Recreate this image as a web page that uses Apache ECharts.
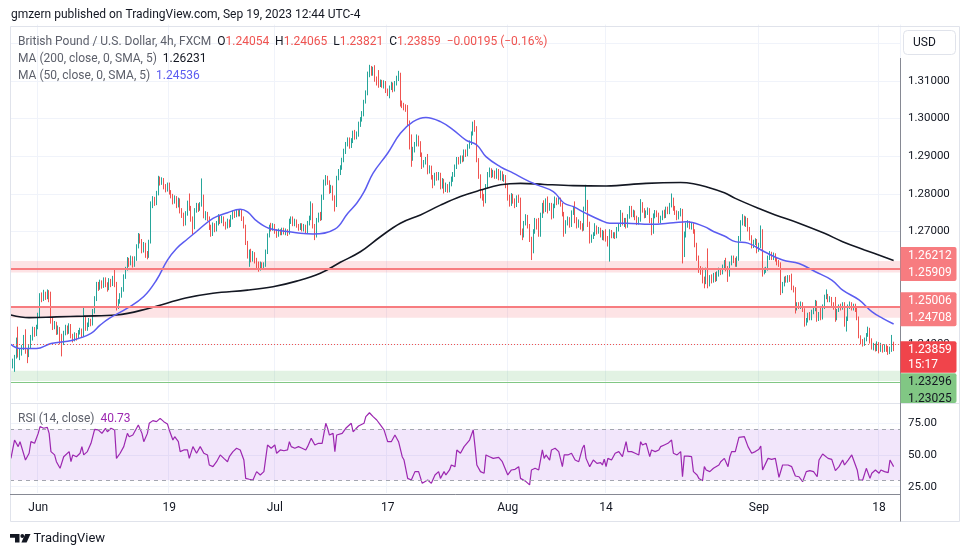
<!DOCTYPE html>
<html><head><meta charset="utf-8">
<script src="https://cdn.jsdelivr.net/npm/echarts@6/dist/echarts.min.js"></script>
<style>html,body{margin:0;padding:0;background:#fff}#c{width:970px;height:557px}</style>
</head><body><div id="c"></div><script>
// ---- data ----
// candles: [open, close, low, high], one per 4h bar
const candles = [
[1.2352,1.2344,1.2338,1.2358],[1.2344,1.2356,1.2336,1.2362],[1.2356,1.2368,1.2327,1.2372],[1.2368,1.2410,1.2362,1.2418],[1.2410,1.2372,1.2365,1.2447],[1.2372,1.2380,1.2358,1.2388],[1.2380,1.2392,1.2370,1.2398],[1.2392,1.2418,1.2385,1.2425],[1.2418,1.2382,1.2375,1.2440],[1.2382,1.2374,1.2350,1.2390],
[1.2374,1.2392,1.2366,1.2398],[1.2392,1.2418,1.2388,1.2425],[1.2418,1.2440,1.2410,1.2447],[1.2440,1.2428,1.2420,1.2446],[1.2428,1.2446,1.2422,1.2452],[1.2446,1.2478,1.2440,1.2484],[1.2478,1.2528,1.2472,1.2536],[1.2528,1.2520,1.2512,1.2538],[1.2520,1.2534,1.2515,1.2545],[1.2534,1.2524,1.2518,1.2540],
[1.2524,1.2538,1.2520,1.2546],[1.2538,1.2518,1.2512,1.2544],[1.2518,1.2462,1.2455,1.2540],[1.2462,1.2448,1.2438,1.2470],[1.2448,1.2456,1.2440,1.2462],[1.2456,1.2432,1.2425,1.2460],[1.2432,1.2442,1.2426,1.2450],[1.2442,1.2420,1.2400,1.2446],[1.2420,1.2404,1.2368,1.2428],[1.2404,1.2430,1.2398,1.2436],
[1.2430,1.2446,1.2424,1.2452],[1.2446,1.2432,1.2426,1.2450],[1.2432,1.2450,1.2428,1.2456],[1.2450,1.2422,1.2416,1.2454],[1.2422,1.2412,1.2405,1.2428],[1.2412,1.2426,1.2408,1.2432],[1.2426,1.2418,1.2410,1.2430],[1.2418,1.2432,1.2414,1.2438],[1.2432,1.2438,1.2426,1.2444],[1.2438,1.2425,1.2418,1.2442],
[1.2425,1.2470,1.2420,1.2500],[1.2470,1.2442,1.2436,1.2474],[1.2442,1.2452,1.2436,1.2458],[1.2452,1.2462,1.2446,1.2470],[1.2462,1.2455,1.2448,1.2468],[1.2455,1.2488,1.2450,1.2494],[1.2488,1.2520,1.2482,1.2528],[1.2520,1.2560,1.2515,1.2566],[1.2560,1.2550,1.2542,1.2566],[1.2550,1.2565,1.2545,1.2572],
[1.2565,1.2555,1.2548,1.2570],[1.2555,1.2572,1.2550,1.2578],[1.2572,1.2560,1.2552,1.2578],[1.2560,1.2548,1.2540,1.2565],[1.2548,1.2570,1.2544,1.2576],[1.2570,1.2560,1.2552,1.2574],[1.2560,1.2576,1.2555,1.2582],[1.2576,1.2560,1.2552,1.2600],[1.2560,1.2500,1.2490,1.2566],[1.2500,1.2514,1.2494,1.2520],
[1.2514,1.2530,1.2508,1.2536],[1.2530,1.2546,1.2524,1.2552],[1.2546,1.2580,1.2540,1.2586],[1.2580,1.2600,1.2574,1.2606],[1.2600,1.2624,1.2596,1.2632],[1.2624,1.2614,1.2606,1.2630],[1.2614,1.2630,1.2610,1.2636],[1.2630,1.2612,1.2604,1.2634],[1.2612,1.2628,1.2606,1.2634],[1.2628,1.2660,1.2622,1.2666],
[1.2660,1.2690,1.2655,1.2696],[1.2690,1.2675,1.2668,1.2694],[1.2675,1.2650,1.2642,1.2680],[1.2650,1.2666,1.2644,1.2672],[1.2666,1.2640,1.2630,1.2670],[1.2640,1.2635,1.2626,1.2648],[1.2635,1.2672,1.2630,1.2678],[1.2672,1.2770,1.2668,1.2780],[1.2770,1.2786,1.2762,1.2794],[1.2786,1.2776,1.2768,1.2792],
[1.2776,1.2802,1.2770,1.2808],[1.2802,1.2840,1.2796,1.2848],[1.2840,1.2830,1.2822,1.2846],[1.2830,1.2838,1.2824,1.2844],[1.2838,1.2820,1.2812,1.2842],[1.2820,1.2812,1.2804,1.2826],[1.2812,1.2825,1.2806,1.2830],[1.2825,1.2805,1.2798,1.2830],[1.2805,1.2795,1.2788,1.2810],[1.2795,1.2780,1.2772,1.2800],
[1.2780,1.2790,1.2774,1.2796],[1.2790,1.2770,1.2762,1.2794],[1.2770,1.2784,1.2764,1.2790],[1.2784,1.2756,1.2748,1.2788],[1.2756,1.2745,1.2736,1.2762],[1.2745,1.2722,1.2714,1.2750],[1.2722,1.2748,1.2716,1.2754],[1.2748,1.2775,1.2742,1.2782],[1.2775,1.2762,1.2755,1.2801],[1.2762,1.2735,1.2726,1.2768],
[1.2735,1.2712,1.2691,1.2740],[1.2712,1.2757,1.2706,1.2762],[1.2757,1.2770,1.2750,1.2776],[1.2770,1.2760,1.2752,1.2775],[1.2760,1.2772,1.2755,1.2778],[1.2772,1.2790,1.2766,1.2841],[1.2790,1.2740,1.2735,1.2798],[1.2740,1.2748,1.2730,1.2754],[1.2748,1.2734,1.2728,1.2752],[1.2734,1.2712,1.2704,1.2740],
[1.2712,1.2692,1.2686,1.2718],[1.2692,1.2718,1.2688,1.2724],[1.2718,1.2705,1.2698,1.2722],[1.2705,1.2722,1.2700,1.2728],[1.2722,1.2740,1.2716,1.2746],[1.2740,1.2728,1.2720,1.2744],[1.2728,1.2736,1.2722,1.2742],[1.2736,1.2720,1.2714,1.2740],[1.2720,1.2712,1.2705,1.2726],[1.2712,1.2728,1.2708,1.2734],
[1.2728,1.2716,1.2710,1.2732],[1.2716,1.2738,1.2712,1.2744],[1.2738,1.2750,1.2732,1.2756],[1.2750,1.2742,1.2736,1.2754],[1.2742,1.2752,1.2738,1.2757],[1.2752,1.2746,1.2740,1.2757],[1.2746,1.2754,1.2740,1.2758],[1.2754,1.2735,1.2728,1.2758],[1.2735,1.2715,1.2708,1.2740],[1.2715,1.2670,1.2664,1.2718],
[1.2670,1.2636,1.2628,1.2675],[1.2636,1.2648,1.2606,1.2652],[1.2648,1.2625,1.2618,1.2654],[1.2625,1.2640,1.2620,1.2648],[1.2640,1.2622,1.2615,1.2645],[1.2622,1.2610,1.2600,1.2630],[1.2610,1.2602,1.2593,1.2620],[1.2602,1.2614,1.2596,1.2620],[1.2614,1.2604,1.2598,1.2618],[1.2604,1.2612,1.2600,1.2618],
[1.2612,1.2646,1.2606,1.2652],[1.2646,1.2690,1.2640,1.2695],[1.2690,1.2712,1.2684,1.2718],[1.2712,1.2708,1.2700,1.2723],[1.2708,1.2716,1.2702,1.2722],[1.2716,1.2700,1.2694,1.2720],[1.2700,1.2690,1.2683,1.2706],[1.2690,1.2702,1.2686,1.2708],[1.2702,1.2696,1.2690,1.2706],[1.2696,1.2705,1.2690,1.2710],
[1.2705,1.2698,1.2692,1.2710],[1.2698,1.2702,1.2690,1.2708],[1.2702,1.2696,1.2688,1.2706],[1.2696,1.2725,1.2692,1.2734],[1.2725,1.2736,1.2720,1.2740],[1.2736,1.2720,1.2714,1.2740],[1.2720,1.2728,1.2714,1.2734],[1.2728,1.2716,1.2710,1.2732],[1.2716,1.2710,1.2702,1.2720],[1.2710,1.2718,1.2704,1.2722],
[1.2718,1.2706,1.2700,1.2722],[1.2706,1.2714,1.2700,1.2720],[1.2714,1.2700,1.2694,1.2718],[1.2700,1.2722,1.2694,1.2728],[1.2722,1.2736,1.2716,1.2742],[1.2736,1.2770,1.2730,1.2780],[1.2770,1.2715,1.2708,1.2775],[1.2715,1.2690,1.2677,1.2720],[1.2690,1.2730,1.2684,1.2736],[1.2730,1.2745,1.2724,1.2750],
[1.2745,1.2736,1.2728,1.2752],[1.2736,1.2790,1.2730,1.2798],[1.2790,1.2830,1.2784,1.2838],[1.2830,1.2844,1.2822,1.2850],[1.2844,1.2830,1.2824,1.2848],[1.2830,1.2808,1.2800,1.2836],[1.2808,1.2818,1.2802,1.2824],[1.2818,1.2790,1.2782,1.2822],[1.2790,1.2770,1.2753,1.2796],[1.2770,1.2842,1.2765,1.2848],
[1.2842,1.2858,1.2836,1.2866],[1.2858,1.2870,1.2850,1.2876],[1.2870,1.2890,1.2864,1.2896],[1.2890,1.2914,1.2884,1.2920],[1.2914,1.2932,1.2906,1.2938],[1.2932,1.2944,1.2926,1.2950],[1.2944,1.2928,1.2920,1.2950],[1.2928,1.2940,1.2922,1.2948],[1.2940,1.2962,1.2935,1.2968],[1.2962,1.2950,1.2944,1.2970],
[1.2950,1.2958,1.2945,1.2966],[1.2958,1.2985,1.2952,1.2992],[1.2985,1.2998,1.2978,1.3004],[1.2998,1.3012,1.2992,1.3020],[1.3012,1.3045,1.3006,1.3050],[1.3045,1.3068,1.3040,1.3075],[1.3068,1.3118,1.3062,1.3125],[1.3118,1.3132,1.3110,1.3143],[1.3132,1.3120,1.3114,1.3140],[1.3120,1.3128,1.3114,1.3138],
[1.3128,1.3104,1.3098,1.3142],[1.3104,1.3094,1.3088,1.3112],[1.3094,1.3090,1.3082,1.3129],[1.3090,1.3098,1.3084,1.3104],[1.3098,1.3088,1.3082,1.3103],[1.3088,1.3096,1.3080,1.3102],[1.3096,1.3075,1.3068,1.3100],[1.3075,1.3068,1.3060,1.3080],[1.3068,1.3082,1.3054,1.3088],[1.3082,1.3090,1.3076,1.3098],
[1.3090,1.3076,1.3070,1.3096],[1.3076,1.3094,1.3072,1.3100],[1.3094,1.3108,1.3088,1.3114],[1.3108,1.3118,1.3100,1.3127],[1.3118,1.3040,1.3032,1.3122],[1.3040,1.3035,1.3028,1.3048],[1.3035,1.3030,1.3022,1.3042],[1.3030,1.3026,1.3018,1.3038],[1.3026,1.2990,1.2980,1.3036],[1.2990,1.2925,1.2918,1.2995],
[1.2925,1.2895,1.2872,1.2958],[1.2895,1.2918,1.2888,1.2925],[1.2918,1.2930,1.2910,1.2938],[1.2930,1.2950,1.2926,1.2958],[1.2950,1.2935,1.2926,1.2955],[1.2935,1.2905,1.2898,1.2940],[1.2905,1.2875,1.2866,1.2910],[1.2875,1.2885,1.2870,1.2890],[1.2885,1.2892,1.2878,1.2898],[1.2892,1.2860,1.2852,1.2906],
[1.2860,1.2870,1.2854,1.2876],[1.2870,1.2845,1.2838,1.2875],[1.2845,1.2828,1.2815,1.2850],[1.2828,1.2850,1.2822,1.2856],[1.2850,1.2842,1.2835,1.2858],[1.2842,1.2852,1.2836,1.2858],[1.2852,1.2820,1.2812,1.2856],[1.2820,1.2836,1.2814,1.2842],[1.2836,1.2812,1.2801,1.2840],[1.2812,1.2820,1.2805,1.2830],
[1.2820,1.2808,1.2803,1.2826],[1.2808,1.2826,1.2804,1.2832],[1.2826,1.2838,1.2820,1.2846],[1.2838,1.2850,1.2832,1.2858],[1.2850,1.2872,1.2845,1.2878],[1.2872,1.2892,1.2866,1.2898],[1.2892,1.2884,1.2878,1.2898],[1.2884,1.2896,1.2880,1.2902],[1.2896,1.2890,1.2884,1.2902],[1.2890,1.2912,1.2886,1.2918],
[1.2912,1.2905,1.2898,1.2918],[1.2905,1.2926,1.2900,1.2932],[1.2926,1.2935,1.2920,1.2942],[1.2935,1.2960,1.2930,1.2966],[1.2960,1.2985,1.2955,1.2992],[1.2985,1.2972,1.2965,1.2996],[1.2972,1.2890,1.2884,1.2980],[1.2890,1.2848,1.2840,1.2895],[1.2848,1.2805,1.2788,1.2852],[1.2805,1.2792,1.2782,1.2812],
[1.2792,1.2780,1.2766,1.2800],[1.2780,1.2820,1.2775,1.2826],[1.2820,1.2850,1.2814,1.2858],[1.2850,1.2862,1.2844,1.2870],[1.2862,1.2850,1.2842,1.2868],[1.2850,1.2858,1.2844,1.2864],[1.2858,1.2846,1.2840,1.2862],[1.2846,1.2860,1.2840,1.2868],[1.2860,1.2842,1.2836,1.2866],[1.2842,1.2855,1.2836,1.2862],
[1.2855,1.2840,1.2834,1.2860],[1.2840,1.2846,1.2832,1.2852],[1.2846,1.2822,1.2815,1.2850],[1.2822,1.2790,1.2782,1.2826],[1.2790,1.2772,1.2766,1.2798],[1.2772,1.2796,1.2768,1.2802],[1.2796,1.2782,1.2774,1.2800],[1.2782,1.2770,1.2762,1.2788],[1.2770,1.2790,1.2765,1.2796],[1.2790,1.2784,1.2776,1.2798],
[1.2784,1.2700,1.2690,1.2790],[1.2700,1.2688,1.2677,1.2708],[1.2688,1.2722,1.2684,1.2728],[1.2722,1.2740,1.2716,1.2746],[1.2740,1.2715,1.2708,1.2744],[1.2715,1.2680,1.2672,1.2720],[1.2680,1.2648,1.2624,1.2686],[1.2648,1.2700,1.2642,1.2706],[1.2700,1.2728,1.2694,1.2736],[1.2728,1.2712,1.2705,1.2734],
[1.2712,1.2690,1.2686,1.2736],[1.2690,1.2742,1.2686,1.2750],[1.2742,1.2765,1.2736,1.2776],[1.2765,1.2758,1.2748,1.2783],[1.2758,1.2780,1.2752,1.2788],[1.2780,1.2760,1.2748,1.2793],[1.2760,1.2770,1.2755,1.2776],[1.2770,1.2740,1.2732,1.2776],[1.2740,1.2768,1.2735,1.2774],[1.2768,1.2785,1.2762,1.2793],
[1.2785,1.2778,1.2770,1.2790],[1.2778,1.2786,1.2772,1.2792],[1.2786,1.2772,1.2766,1.2790],[1.2772,1.2748,1.2740,1.2776],[1.2748,1.2700,1.2686,1.2752],[1.2700,1.2722,1.2694,1.2730],[1.2722,1.2730,1.2716,1.2740],[1.2730,1.2718,1.2710,1.2738],[1.2718,1.2750,1.2712,1.2756],[1.2750,1.2762,1.2744,1.2768],
[1.2762,1.2730,1.2722,1.2780],[1.2730,1.2715,1.2708,1.2738],[1.2715,1.2725,1.2710,1.2732],[1.2725,1.2712,1.2705,1.2728],[1.2712,1.2708,1.2700,1.2722],[1.2708,1.2760,1.2702,1.2766],[1.2760,1.2770,1.2754,1.2824],[1.2770,1.2720,1.2712,1.2784],[1.2720,1.2675,1.2668,1.2726],[1.2675,1.2686,1.2670,1.2692],
[1.2686,1.2692,1.2680,1.2698],[1.2692,1.2712,1.2688,1.2722],[1.2712,1.2700,1.2692,1.2716],[1.2700,1.2706,1.2694,1.2712],[1.2706,1.2690,1.2684,1.2710],[1.2690,1.2698,1.2677,1.2704],[1.2698,1.2688,1.2676,1.2702],[1.2688,1.2680,1.2673,1.2706],[1.2680,1.2670,1.2660,1.2688],[1.2670,1.2700,1.2620,1.2706],
[1.2700,1.2688,1.2682,1.2704],[1.2688,1.2694,1.2682,1.2698],[1.2694,1.2686,1.2680,1.2698],[1.2686,1.2705,1.2682,1.2712],[1.2705,1.2716,1.2700,1.2722],[1.2716,1.2745,1.2712,1.2757],[1.2745,1.2722,1.2716,1.2750],[1.2722,1.2730,1.2712,1.2736],[1.2730,1.2715,1.2708,1.2736],[1.2715,1.2740,1.2710,1.2746],
[1.2740,1.2762,1.2734,1.2768],[1.2762,1.2745,1.2738,1.2768],[1.2745,1.2752,1.2738,1.2758],[1.2752,1.2738,1.2730,1.2756],[1.2738,1.2725,1.2717,1.2742],[1.2725,1.2732,1.2718,1.2738],[1.2732,1.2772,1.2726,1.2786],[1.2772,1.2758,1.2750,1.2778],[1.2758,1.2742,1.2735,1.2762],[1.2742,1.2750,1.2736,1.2756],
[1.2750,1.2758,1.2744,1.2764],[1.2758,1.2730,1.2722,1.2762],[1.2730,1.2698,1.2690,1.2736],[1.2698,1.2740,1.2694,1.2748],[1.2740,1.2752,1.2735,1.2757],[1.2752,1.2744,1.2738,1.2756],[1.2744,1.2728,1.2722,1.2750],[1.2728,1.2736,1.2722,1.2742],[1.2736,1.2750,1.2730,1.2756],[1.2750,1.2742,1.2735,1.2758],
[1.2742,1.2760,1.2736,1.2766],[1.2760,1.2752,1.2746,1.2766],[1.2752,1.2770,1.2746,1.2776],[1.2770,1.2785,1.2764,1.2801],[1.2785,1.2762,1.2755,1.2790],[1.2762,1.2750,1.2744,1.2768],[1.2750,1.2738,1.2730,1.2756],[1.2738,1.2748,1.2732,1.2754],[1.2748,1.2756,1.2740,1.2762],[1.2756,1.2640,1.2615,1.2760],
[1.2640,1.2690,1.2632,1.2700],[1.2690,1.2718,1.2684,1.2724],[1.2718,1.2725,1.2710,1.2730],[1.2725,1.2712,1.2706,1.2728],[1.2712,1.2718,1.2705,1.2724],[1.2718,1.2700,1.2694,1.2722],[1.2700,1.2665,1.2658,1.2706],[1.2665,1.2630,1.2622,1.2670],[1.2630,1.2600,1.2590,1.2636],[1.2600,1.2598,1.2585,1.2608],
[1.2598,1.2570,1.2562,1.2604],[1.2570,1.2565,1.2549,1.2580],[1.2565,1.2598,1.2560,1.2604],[1.2598,1.2560,1.2549,1.2655],[1.2560,1.2578,1.2554,1.2584],[1.2578,1.2570,1.2562,1.2586],[1.2570,1.2584,1.2564,1.2590],[1.2584,1.2574,1.2566,1.2592],[1.2574,1.2588,1.2568,1.2594],[1.2588,1.2596,1.2580,1.2604],
[1.2596,1.2590,1.2584,1.2602],[1.2590,1.2604,1.2586,1.2612],[1.2604,1.2618,1.2598,1.2624],[1.2618,1.2600,1.2594,1.2630],[1.2600,1.2585,1.2566,1.2608],[1.2585,1.2615,1.2580,1.2620],[1.2615,1.2628,1.2610,1.2636],[1.2628,1.2622,1.2616,1.2636],[1.2622,1.2612,1.2606,1.2630],[1.2612,1.2628,1.2606,1.2634],
[1.2628,1.2680,1.2622,1.2688],[1.2680,1.2722,1.2674,1.2730],[1.2722,1.2738,1.2716,1.2746],[1.2738,1.2722,1.2714,1.2742],[1.2722,1.2732,1.2712,1.2740],[1.2732,1.2706,1.2700,1.2736],[1.2706,1.2682,1.2676,1.2712],[1.2682,1.2660,1.2655,1.2690],[1.2660,1.2672,1.2656,1.2678],[1.2672,1.2676,1.2664,1.2682],
[1.2676,1.2652,1.2642,1.2680],[1.2652,1.2662,1.2646,1.2670],[1.2662,1.2700,1.2656,1.2716],[1.2700,1.2590,1.2580,1.2706],[1.2590,1.2600,1.2586,1.2604],[1.2600,1.2602,1.2590,1.2606],[1.2602,1.2630,1.2596,1.2636],[1.2630,1.2642,1.2624,1.2648],[1.2642,1.2630,1.2624,1.2646],[1.2630,1.2638,1.2624,1.2644],
[1.2638,1.2626,1.2620,1.2642],[1.2626,1.2616,1.2610,1.2632],[1.2616,1.2612,1.2606,1.2624],[1.2612,1.2542,1.2531,1.2618],[1.2542,1.2560,1.2536,1.2566],[1.2560,1.2575,1.2554,1.2580],[1.2575,1.2570,1.2564,1.2582],[1.2570,1.2578,1.2564,1.2584],[1.2578,1.2572,1.2566,1.2584],[1.2572,1.2550,1.2544,1.2588],
[1.2550,1.2544,1.2538,1.2556],[1.2544,1.2495,1.2482,1.2552],[1.2495,1.2506,1.2490,1.2512],[1.2506,1.2500,1.2494,1.2512],[1.2500,1.2508,1.2494,1.2514],[1.2508,1.2492,1.2486,1.2512],[1.2492,1.2456,1.2447,1.2496],[1.2456,1.2464,1.2450,1.2470],[1.2464,1.2478,1.2458,1.2484],[1.2478,1.2470,1.2464,1.2486],
[1.2470,1.2486,1.2464,1.2492],[1.2486,1.2494,1.2480,1.2500],[1.2494,1.2512,1.2488,1.2518],[1.2512,1.2468,1.2460,1.2516],[1.2468,1.2480,1.2462,1.2486],[1.2480,1.2470,1.2464,1.2502],[1.2470,1.2500,1.2466,1.2506],[1.2500,1.2526,1.2494,1.2532],[1.2526,1.2530,1.2520,1.2546],[1.2530,1.2518,1.2512,1.2534],
[1.2518,1.2522,1.2512,1.2528],[1.2522,1.2508,1.2502,1.2526],[1.2508,1.2498,1.2492,1.2512],[1.2498,1.2470,1.2460,1.2526],[1.2470,1.2490,1.2464,1.2494],[1.2490,1.2502,1.2486,1.2506],[1.2502,1.2496,1.2490,1.2508],[1.2496,1.2508,1.2492,1.2512],[1.2508,1.2455,1.2447,1.2512],[1.2455,1.2468,1.2434,1.2474],
[1.2468,1.2500,1.2462,1.2506],[1.2500,1.2508,1.2494,1.2514],[1.2508,1.2496,1.2490,1.2512],[1.2496,1.2502,1.2490,1.2508],[1.2502,1.2492,1.2486,1.2508],[1.2492,1.2470,1.2464,1.2500],[1.2470,1.2418,1.2416,1.2474],[1.2418,1.2408,1.2400,1.2424],[1.2408,1.2400,1.2394,1.2414],[1.2400,1.2412,1.2396,1.2418],
[1.2412,1.2426,1.2408,1.2430],[1.2426,1.2440,1.2420,1.2447],[1.2440,1.2410,1.2402,1.2444],[1.2410,1.2392,1.2386,1.2416],[1.2392,1.2398,1.2384,1.2404],[1.2398,1.2388,1.2381,1.2402],[1.2388,1.2402,1.2382,1.2408],[1.2402,1.2385,1.2376,1.2406],[1.2385,1.2398,1.2380,1.2404],[1.2398,1.2386,1.2378,1.2400],
[1.2386,1.2394,1.2380,1.2400],[1.2394,1.2388,1.2380,1.2398],[1.2388,1.2380,1.2372,1.2396],[1.2380,1.2386,1.2374,1.2394],[1.2386,1.2405,1.2380,1.2425],[1.2405,1.2386,1.2382,1.2407]
];
// moving averages: [bar index, value]
const ma200 = [[0,1.2478],[10,1.2471],[25,1.2473],[40,1.2475],[58,1.2478],[76,1.2496],[96,1.2523],[111,1.2536],[130,1.2544],[144,1.2553],[157,1.2568],[170,1.2589],[181,1.2618],[192,1.2646],[203,1.2686],[214,1.2722],[225,1.2744],[236,1.2770],[247,1.2793],[258,1.2810],[269,1.2824],[280,1.2828],[293,1.2825],[309,1.2822],[327,1.2821],[349,1.2828],[368,1.2830],[375,1.2827],[382,1.2819],[392,1.2803],[398,1.2788],[411,1.2761],[420,1.2744],[433,1.2722],[447,1.2695],[457,1.2673],[469,1.2651],[485,1.2623]];
const ma50 = [[0,1.2400],[5,1.2389],[14,1.2389],[22,1.2402],[34,1.2411],[44,1.2429],[49,1.2451],[54,1.2469],[64,1.2496],[73,1.2527],[80,1.2571],[86,1.2624],[91,1.2655],[97,1.2680],[102,1.2700],[111,1.2735],[119,1.2750],[126,1.2759],[130,1.2752],[135,1.2728],[142,1.2708],[152,1.2700],[159,1.2695],[166,1.2693],[178,1.2706],[185,1.2748],[190,1.2775],[194,1.2805],[199,1.2855],[207,1.2908],[214,1.2961],[221,1.2992],[228,1.3003],[236,1.2992],[243,1.2970],[250,1.2943],[256,1.2930],[261,1.2899],[269,1.2872],[276,1.2855],[283,1.2837],[289,1.2824],[298,1.2806],[304,1.2775],[309,1.2766],[316,1.2748],[324,1.2730],[329,1.2722],[338,1.2722],[351,1.2719],[364,1.2723],[371,1.2726],[381,1.2713],[386,1.2700],[392,1.2688],[398,1.2673],[405,1.2669],[414,1.2646],[424,1.2624],[433,1.2615],[442,1.2593],[451,1.2571],[457,1.2544],[466,1.2518],[473,1.2487],[479,1.2469],[485,1.2454]];
// RSI(14): [bar index, value]
const rsi = [[0,47.2],[2,61.6],[4,56.4],[5,60.3],[6,61.6],[8,45.9],[10,51.2],[11,60.3],[13,59.0],[15,66.8],[16,72.1],[18,70.8],[20,71.5],[21,66.8],[22,52.5],[24,49.9],[25,44.6],[27,39.4],[29,48.5],[30,49.9],[32,52.5],[33,44.6],[34,49.9],[36,48.5],[38,51.2],[39,56.4],[40,49.9],[42,52.5],[44,59.0],[46,70.0],[48,69.5],[50,66.8],[52,70.8],[53,68.1],[55,70.8],[57,69.5],[58,47.2],[60,51.2],[62,56.4],[64,66.8],[65,64.2],[67,65.5],[68,64.2],[70,73.4],[72,66.8],[73,60.3],[75,66.8],[76,74.7],[78,76.8],[80,76.0],[82,78.6],[84,76.0],[86,74.2],[87,69.5],[89,61.6],[90,64.2],[92,60.3],[93,52.5],[95,53.8],[97,53.8],[98,47.2],[100,56.4],[102,51.2],[104,56.4],[106,51.2],[108,49.9],[109,42.0],[111,40.7],[113,44.6],[115,49.9],[117,47.2],[119,44.6],[120,48.5],[122,52.5],[124,55.1],[126,53.8],[128,45.9],[129,31.5],[131,30.8],[133,30.2],[135,36.8],[137,34.2],[139,36.8],[140,38.1],[141,57.7],[143,55.1],[145,57.7],[146,51.2],[148,53.8],[150,53.2],[152,53.8],[153,60.3],[154,56.4],[156,55.1],[158,56.4],[160,55.1],[162,53.8],[163,56.4],[165,62.9],[167,57.7],[169,59.0],[171,59.0],[173,74.7],[174,70.8],[175,65.5],[177,66.8],[178,52.5],[179,65.5],[182,66.8],[184,70.8],[187,74.7],[188,68.1],[191,72.6],[194,74.7],[195,79.9],[197,83.0],[199,79.9],[201,77.3],[203,73.4],[205,69.5],[206,68.1],[207,60.3],[209,60.3],[211,65.5],[213,60.3],[215,48.5],[216,45.9],[218,31.5],[220,30.2],[222,36.8],[224,36.8],[226,27.6],[227,28.9],[229,30.2],[231,27.6],[233,34.2],[235,36.8],[236,31.5],[238,36.8],[239,34.2],[241,38.1],[242,42.0],[244,40.7],[245,53.8],[247,51.2],[249,56.4],[250,56.4],[252,61.6],[254,69.5],[255,56.4],[256,42.0],[258,36.8],[260,35.5],[261,49.9],[263,48.5],[265,47.2],[268,48.0],[270,44.6],[271,43.3],[273,34.2],[275,38.1],[277,38.6],[279,40.7],[280,31.5],[281,30.8],[283,29.0],[285,26.4],[286,38.1],[288,39.4],[290,38.1],[292,53.8],[293,47.2],[294,49.9],[296,45.9],[297,53.8],[299,55.1],[301,52.5],[303,40.7],[304,49.9],[306,49.9],[308,51.2],[310,45.9],[312,44.6],[313,43.3],[314,55.1],[315,57.7],[316,47.2],[318,40.7],[319,42.0],[320,45.9],[322,43.3],[324,43.8],[325,42.0],[326,46.5],[327,40.7],[328,47.2],[330,45.9],[332,51.2],[334,52.5],[335,53.8],[336,48.5],[338,60.3],[339,52.5],[341,52.5],[343,51.2],[345,49.9],[346,60.3],[347,57.7],[349,59.0],[351,48.5],[352,53.8],[354,52.5],[356,53.8],[357,56.4],[359,57.7],[361,59.0],[363,61.6],[364,51.2],[366,49.9],[368,52.5],[369,32.8],[370,49.0],[372,49.0],[374,48.5],[375,36.8],[377,34.2],[378,31.5],[380,29.7],[381,40.7],[382,38.1],[384,36.8],[386,39.4],[387,38.1],[389,42.0],[390,44.6],[392,47.2],[394,40.7],[395,48.5],[396,52.5],[398,52.5],[400,63.7],[401,64.2],[403,64.2],[405,56.4],[407,51.2],[409,52.5],[411,54.3],[412,56.9],[413,38.1],[414,39.4],[416,47.2],[418,46.4],[420,47.2],[421,45.9],[422,32.3],[424,42.0],[425,40.7],[427,42.0],[429,40.7],[431,33.4],[433,32.8],[435,28.9],[437,36.8],[439,37.6],[441,36.8],[443,32.8],[444,45.9],[446,50.6],[447,51.2],[449,47.2],[451,46.4],[453,37.6],[455,40.7],[457,45.9],[458,42.0],[460,45.9],[462,49.9],[463,49.9],[465,38.1],[466,30.2],[468,30.2],[470,39.4],[472,31.5],[473,35.5],[475,38.1],[477,35.5],[478,38.1],[480,36.8],[482,36.0],[483,45.9],[485,40.7]];
// time axis ticks: bar index and label
const tickBars = [15, 87, 145, 207, 273, 327, 411, 477];
const tickLabels = ['Jun', '19', 'Jul', '17', 'Aug', '14', 'Sep', '18'];
// drawn zones [top, bottom]
const resistanceZones = [[1.26212, 1.25909], [1.25006, 1.24708]];
const supportZone = [1.23296, 1.23025];
const lastPrice = 1.23859;
const countdown = '15:17';
const legendOHLC = ['1.24054', '1.24065', '1.23821', '1.23859'];
const legendChange = '\u22120.00195 (\u22120.16%)';
const legendMA200 = '1.26231';
const legendMA50 = '1.24536';
const legendRSI = '40.73';
const slotCount = 489;

// ---- chart ----
const FONT = 'Roboto, "Open Sans", "DejaVu Sans", sans-serif';
const GRID = '#f0f3fa';
const UP = '#26a69a', DOWN = '#ef5350';
const cats = Array.from({length: slotCount}, (_, i) => String(i));
const tickAt = new Map(tickBars.map((b, k) => [b, tickLabels[k]]));
const isTick = (i) => tickAt.has(i);
const T = 'rgba(0,0,0,0)';
const rsiGridColors = [T, GRID, T, T, T, T, GRID, T, T, T, T, GRID, T, T, T];

const chart = echarts.init(document.getElementById('c'), null, {renderer: 'canvas'});

const zoneAreas = resistanceZones.map(z => [
  {yAxis: z[0], itemStyle: {color: 'rgba(242,54,69,0.14)'}}, {yAxis: z[1]}
]).concat([[{yAxis: supportZone[0], itemStyle: {color: 'rgba(76,175,80,0.16)'}}, {yAxis: supportZone[1]}]]);
const zoneLines = [];
resistanceZones.forEach(z => {
  zoneLines.push({yAxis: z[0], lineStyle: {color: '#f77c80', width: 1, type: 'solid'}});
  zoneLines.push({yAxis: z[1], lineStyle: {color: '#f77c80', width: 2, type: 'solid'}});
});
zoneLines.push({yAxis: supportZone[0], lineStyle: {color: '#81c784', width: 1, type: 'solid'}});
zoneLines.push({yAxis: supportZone[1], lineStyle: {color: '#81c784', width: 1, type: 'solid'}});
zoneLines.push({yAxis: lastPrice, lineStyle: {color: DOWN, width: 1, type: [1, 2]}});

const option = {
  animation: false,
  backgroundColor: '#ffffff',
  grid: [
    {left: 10, width: 890, top: 24.57, height: 376.2},
    {left: 10, width: 890, top: 403.8, height: 89.25}
  ],
  xAxis: [
    {type: 'category', gridIndex: 0, data: cats, boundaryGap: true,
     axisLine: {show: false}, axisTick: {show: false}, axisLabel: {show: false},
     splitLine: {show: true, interval: isTick, lineStyle: {color: GRID, width: 1}}},
    {type: 'category', gridIndex: 1, data: cats, boundaryGap: true,
     axisLine: {show: false}, axisTick: {show: false},
     axisLabel: {show: true, interval: isTick, formatter: (v) => tickAt.get(Number(v)) || '',
                 color: '#131722', fontSize: 12, fontFamily: FONT, margin: 9},
     splitLine: {show: true, interval: isTick, lineStyle: {color: GRID, width: 1}}}
  ],
  yAxis: [
    {type: 'value', gridIndex: 0, position: 'right', min: 1.225, max: 1.325, interval: 0.005, scale: true,
     axisLine: {show: false}, axisTick: {show: false},
     splitLine: {show: true, lineStyle: {color: [T, GRID], width: 1}},
     axisLabel: {color: '#131722', fontSize: 11.5, fontFamily: FONT, margin: 8,
       formatter: (v) => {
         const k = Math.round(v * 1000);
         if (k % 10 !== 0 || v < 1.2395 || v > 1.3105) return '';
         return v.toFixed(5);
       }}},
    {type: 'value', gridIndex: 1, position: 'right', min: 20, max: 90, interval: 5,
     axisLine: {show: false}, axisTick: {show: false},
     splitLine: {show: true, lineStyle: {color: rsiGridColors, width: 1}},
     axisLabel: {color: '#131722', fontSize: 11.5, fontFamily: FONT, margin: 8,
       formatter: (v) => (v === 25 || v === 50 || v === 75) ? v.toFixed(2) : ''}}
  ],
  series: [
    {type: 'candlestick', xAxisIndex: 0, yAxisIndex: 0, data: candles, barWidth: 0.8,
     itemStyle: {color: UP, color0: DOWN, borderColor: UP, borderColor0: DOWN, borderWidth: 1},
     markArea: {silent: true, data: zoneAreas, z: 1},
     markLine: {silent: true, symbol: 'none', label: {show: false}, data: zoneLines, animation: false},
     z: 3},
    {type: 'line', xAxisIndex: 0, yAxisIndex: 0, data: ma200, smooth: 0.4, showSymbol: false,
     lineStyle: {color: '#131722', width: 1.6}, z: 4, silent: true},
    {type: 'line', xAxisIndex: 0, yAxisIndex: 0, data: ma50, smooth: 0.4, showSymbol: false,
     lineStyle: {color: '#5b5cf0', width: 1.5}, z: 4, silent: true},
    {type: 'line', xAxisIndex: 1, yAxisIndex: 1, data: rsi, showSymbol: false,
     lineStyle: {color: '#9c27b0', width: 1.2}, z: 4, silent: true,
     markArea: {silent: true, data: [[{yAxis: 30, itemStyle: {color: 'rgba(149,50,220,0.12)'}}, {yAxis: 70}]]},
     markLine: {silent: true, symbol: 'none', label: {show: false},
       lineStyle: {color: '#a3a6af', width: 1, type: [4, 4]},
       data: [{yAxis: 70}, {yAxis: 30}]}}
  ]
};
chart.setOption(option);

// ---- overlay: frame, legend, price tags, footer ----
const yp = (v) => chart.convertToPixel({yAxisIndex: 0}, v);
const g = [];
const AX = '#868993';
g.push({type: 'rect', shape: {x: 10.5, y: 26.5, width: 949, height: 495}, style: {fill: 'none', stroke: '#e0e3eb', lineWidth: 1}, z: 50, silent: true});
g.push({type: 'line', shape: {x1: 10, y1: 403.5, x2: 960, y2: 403.5}, style: {stroke: '#e0e3eb', lineWidth: 1}, z: 50, silent: true});
g.push({type: 'line', shape: {x1: 10, y1: 494.5, x2: 900.5, y2: 494.5}, style: {stroke: AX, lineWidth: 1}, z: 50, silent: true});
g.push({type: 'line', shape: {x1: 900.5, y1: 58, x2: 900.5, y2: 521.5}, style: {stroke: AX, lineWidth: 1}, z: 50, silent: true});
// USD button
g.push({type: 'rect', shape: {x: 903.5, y: 30.5, width: 52, height: 24, r: 4}, style: {fill: '#fff', stroke: '#e0e3eb', lineWidth: 1}, z: 60, silent: true});
g.push({type: 'text', x: 913, y: 43, style: {text: 'USD', fill: '#131722', font: '12px ' + FONT, verticalAlign: 'middle', textVerticalAlign: 'middle'}, z: 61, silent: true});

function txt(x, y, text, fill, size) {
  return {type: 'text', x: x, y: y, z: 71, silent: true,
    style: {text: text, fill: fill, font: (size || 12) + 'px ' + FONT, align: 'left', verticalAlign: 'middle', textAlign: 'left', textVerticalAlign: 'middle'}};
}
function tagBox(y1, y2, fill) {
  return {type: 'rect', shape: {x: 900.5, y: y1, width: 56, height: y2 - y1, r: [0, 2, 2, 0]}, style: {fill: fill}, z: 70, silent: true};
}
const TH = 17;
resistanceZones.forEach(z => {
  const yb = yp(z[1]);
  const yt = Math.min(yp(z[0]), yb - TH);
  g.push(tagBox(yt - TH / 2, yb + TH / 2, '#f77c80'));
  g.push(txt(908, yt, z[0].toFixed(5), '#ffffff', 12));
  g.push(txt(908, yb, z[1].toFixed(5), '#ffffff', 12));
});
const y0 = yp(lastPrice);
const redBottom = y0 + 23;
g.push(tagBox(y0 - 8.5, redBottom, '#f0444b'));
g.push(txt(908, y0, lastPrice.toFixed(5), '#ffffff', 12));
g.push(txt(908, y0 + 15, countdown, '#ffffff', 12));
const g1 = Math.max(yp(supportZone[0]), redBottom + TH / 2 + 0.5);
const g2 = Math.max(yp(supportZone[1]), g1 + TH);
g.push(tagBox(redBottom + 0.5, Math.min(g2 + TH / 2, 403), '#81c784'));
g.push(txt(908, g1, supportZone[0].toFixed(5), '#131722', 12));
g.push(txt(908, g2, supportZone[1].toFixed(5), '#131722', 12));

// header & legends
const LS = 12;
const rich = {
  g: {fill: '#5d606b', fontSize: LS, fontFamily: FONT},
  k: {fill: '#131722', fontSize: LS, fontFamily: FONT},
  r: {fill: '#ef5350', fontSize: LS, fontFamily: FONT},
  b: {fill: '#5b5cf0', fontSize: LS, fontFamily: FONT},
  p: {fill: '#9c27b0', fontSize: LS, fontFamily: FONT}
};
function richText(x, y, text) {
  return {type: 'text', x: x, y: y, z: 71, silent: true,
    style: {text: text, rich: rich, font: LS + 'px ' + FONT, fill: '#5d606b', verticalAlign: 'middle', textVerticalAlign: 'middle'}};
}
g.push(txt(11, 15, 'gmzern published on TradingView.com, Sep 19, 2023 12:44 UTC-4', '#131722', 12));
g.push(richText(18, 42, '{g|British Pound / U.S. Dollar, 4h, FXCM  }{k|O}{r|' + legendOHLC[0] + '  }{k|H}{r|' + legendOHLC[1] + '  }{k|L}{r|' + legendOHLC[2] + '  }{k|C}{r|' + legendOHLC[3] + '  ' + legendChange + '}'));
g.push(richText(18, 59, '{g|MA (200, close, 0, SMA, 5)  }{k|' + legendMA200 + '}'));
g.push(richText(18, 76, '{g|MA (50, close, 0, SMA, 5)  }{b|' + legendMA50 + '}'));
g.push(richText(18, 419, '{g|RSI (14, close)  }{p|' + legendRSI + '}'));

// footer logo
g.push({type: 'polygon', shape: {points: [[10, 534], [19.5, 534], [19.5, 542.5], [15, 542.5], [15, 537.8], [10, 537.8]]}, style: {fill: '#131722'}, silent: true});
g.push({type: 'circle', shape: {cx: 22.3, cy: 536, r: 1.9}, style: {fill: '#131722'}, silent: true});
g.push({type: 'polygon', shape: {points: [[25.2, 534], [30.5, 534], [26.6, 542.5], [21.4, 542.5]]}, style: {fill: '#131722'}, silent: true});
g.push(txt(33.5, 538.5, 'TradingView', '#131722', 13));

chart.setOption({graphic: {elements: g}});
</script></body></html>
